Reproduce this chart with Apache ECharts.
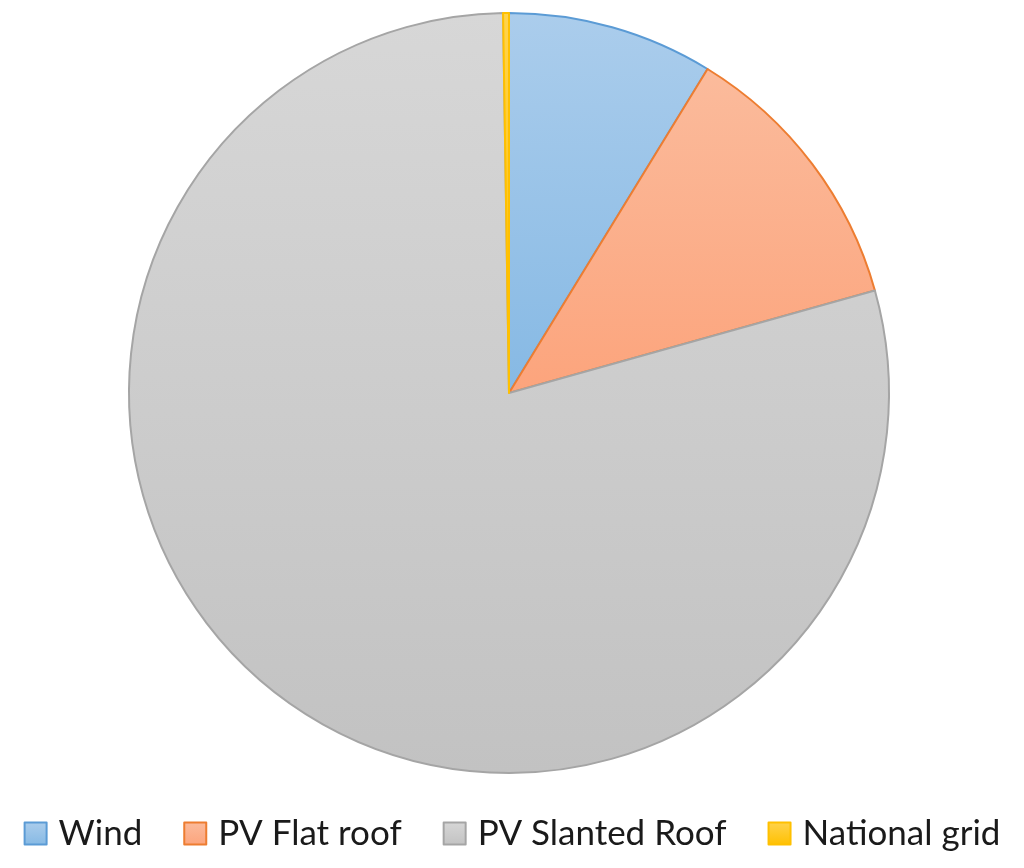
<!DOCTYPE html>
<html>
<head>
<meta charset="utf-8">
<script src="https://cdn.jsdelivr.net/npm/echarts@6/dist/echarts.min.js"></script>
<style>
  html, body { margin: 0; padding: 0; background: #fff; }
  #chart { width: 1024px; height: 868px; }
</style>
</head>
<body>
<div id="chart"></div>
<script>
  // sources and their share (%)
  var sourceNames = ['Wind', 'PV Flat roof', 'PV Slanted Roof', 'National grid'];
  var shareValues = [8.75, 11.9, 79.1, 0.25];

  // fill top / fill bottom / border for each slice
  var fillTop = ['#abcdec', '#fbbb9c', '#d7d7d7', '#ffd34d'];
  var fillBottom = ['#86b9e4', '#fca47c', '#c2c2c2', '#ffc000'];
  var borderColors = ['#5b9bd5', '#ed7d31', '#a5a5a5', '#ffc000'];

  var pieData = sourceNames.map(function (name, i) {
    return {
      name: name,
      value: shareValues[i],
      itemStyle: {
        color: new echarts.graphic.LinearGradient(0, 0, 0, 1, [
          {offset: 0, color: fillTop[i]},
          {offset: 1, color: fillBottom[i]}
        ]),
        borderColor: borderColors[i],
        borderWidth: 2
      }
    };
  });

  var myChart = echarts.init(document.getElementById('chart'));
  myChart.setOption({
    animation: false,
    legend: {
      bottom: 12,
      left: 'center',
      icon: 'rect',
      itemWidth: 22,
      itemHeight: 22,
      itemGap: 41,
      textStyle: {
        fontFamily: 'Lato',
        fontSize: 35,
        color: '#1a1a1a',
        padding: [0, 0, 0, 7]
      },
      data: sourceNames
    },
    series: [
      {
        type: 'pie',
        center: [509, 393],
        radius: [0, 380],
        startAngle: 90,
        clockwise: true,
        label: {show: false},
        labelLine: {show: false},
        data: pieData
      }
    ]
  });
</script>
</body>
</html>
